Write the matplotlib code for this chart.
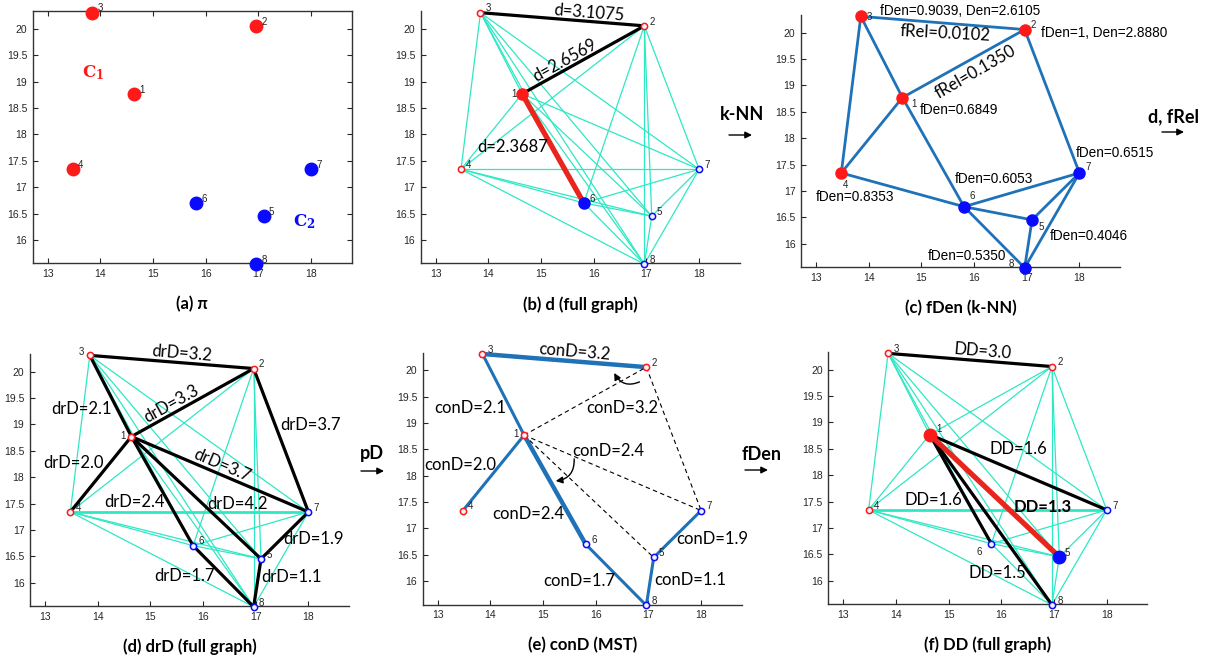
import matplotlib
matplotlib.use('Agg')
import matplotlib.pyplot as plt
from matplotlib.patches import FancyArrowPatch

plt.rcParams['font.family'] = ['Liberation Sans', 'DejaVu Sans']

# ---------------- data ----------------
node_ids = [1, 2, 3, 4, 5, 6, 7, 8]
node_x = [14.64, 16.96, 13.85, 13.48, 17.10, 15.81, 18.00, 16.96]
node_y = [18.77, 20.06, 20.31, 17.34, 16.45, 16.70, 17.34, 15.54]
node_cluster = [1, 1, 1, 1, 2, 2, 2, 2]

x_ticks = [13, 14, 15, 16, 17, 18]
y_ticks = [16, 16.5, 17, 17.5, 18, 18.5, 19, 19.5, 20]

# panel (b): distances
d_black_edges = [(3, 2), (1, 2)]
d_red_edges = [(1, 6)]
d_labels = ['d=3.1075', 'd=2.6569', 'd=2.3687']

# panel (c): k-NN graph, fDen / fRel
knn_edges = [(3, 2), (3, 4), (3, 1), (1, 2), (1, 4), (1, 6), (4, 6), (2, 7),
             (6, 7), (6, 5), (6, 8), (5, 7), (5, 8), (8, 7)]
fden_labels = ['fDen=0.9039, Den=2.6105', 'fDen=1, Den=2.8880', 'fRel=0.0102',
               'fRel=0.1350', 'fDen=0.6849', 'fDen=0.6515', 'fDen=0.6053',
               'fDen=0.8353', 'fDen=0.4046', 'fDen=0.5350']

# panel (d): drD
drd_edges = [(3, 2), (3, 1), (1, 2), (1, 4), (1, 6), (1, 5), (1, 7), (2, 7),
             (7, 5), (5, 8), (6, 8)]
drd_labels = ['drD=3.2', 'drD=3.3', 'drD=2.1', 'drD=3.7', 'drD=3.7', 'drD=2.0',
              'drD=2.4', 'drD=4.2', 'drD=1.9', 'drD=1.1', 'drD=1.7']

# panel (e): conD on MST
mst_edges = [(3, 2), (3, 1), (1, 4), (1, 6), (6, 8), (8, 5), (5, 7)]
mst_thick = [(3, 2), (1, 6)]
mst_dashed = [(1, 2), (2, 7), (1, 7), (1, 5)]
cond_labels = ['conD=3.2', 'conD=2.1', 'conD=3.2', 'conD=2.4', 'conD=2.0',
               'conD=2.4', 'conD=1.9', 'conD=1.7', 'conD=1.1']

# panel (f): DD
dd_black_edges = [(3, 2), (1, 7), (1, 6), (1, 8)]
dd_red_edges = [(1, 5)]
dd_labels = ['DD=3.0', 'DD=1.6', 'DD=1.6', 'DD=1.3', 'DD=1.5']

titles = ['(a) \u03c0', '(b) d (full graph)', '(c) fDen (k-NN)',
          '(d) drD (full graph)', '(e) conD (MST)', '(f) DD (full graph)']
step_labels = ['k-NN', 'd, fRel', 'pD', 'fDen']

# ---------------- styling ----------------
RED = '#ff1a1a'
BLUE = '#0a0aff'
CYAN = '#2ee8c4'
MBLUE = '#1f72b8'
ANN = ['Lato', 'DejaVu Sans']

W, HF = 1207, 662
AW, AH = 319, 252
XL = (12.715, 18.77)
YL = (15.556, 20.336)

fig = plt.figure(figsize=(W / 100, HF / 100), dpi=100)


def P(i):
    return node_x[i - 1], node_y[i - 1]


def make_ax(left, top, box=False):
    ax = fig.add_axes([left / W, 1 - (top + AH) / HF, AW / W, AH / HF])
    ax.set_xlim(*XL)
    ax.set_ylim(*YL)
    ax.set_xticks(x_ticks)
    ax.set_yticks(y_ticks)
    ax.set_xticklabels(['%g' % v for v in x_ticks])
    ax.set_yticklabels(['%g' % v for v in y_ticks])
    ax.tick_params(direction='in', length=3.5, width=0.8, labelsize=7.5,
                   colors='#262626', top=box, right=box, pad=4)
    for s in ax.spines.values():
        s.set_color('#333333')
        s.set_linewidth(1.0)
    if not box:
        ax.spines['top'].set_visible(False)
        ax.spines['right'].set_visible(False)
    return ax


def edges(ax, elist, color, lw, ls='-', z=2):
    for a, b in elist:
        xa, ya = P(a)
        xb, yb = P(b)
        ax.plot([xa, xb], [ya, yb], color=color, lw=lw, ls=ls, zorder=z,
                solid_capstyle='round', clip_on=False)


def full_graph(ax, thick=None):
    for i in range(1, 9):
        for j in range(i + 1, 9):
            lw = 0.9
            if thick and ((i, j) in thick or (j, i) in thick):
                lw = 2.0
            edges(ax, [(i, j)], CYAN, lw, z=1)


def nodes(ax, filled=(), ms_open=4.5, ms_fill=8, all_filled=False):
    for k, nid in enumerate(node_ids):
        c = RED if node_cluster[k] == 1 else BLUE
        if all_filled or nid in filled:
            ax.plot(node_x[k], node_y[k], 'o', ms=ms_fill, color=c, mec=c,
                    zorder=6, clip_on=False)
        else:
            ax.plot(node_x[k], node_y[k], 'o', ms=ms_open, mfc='#eef4ff',
                    mec=c, mew=1.1, zorder=6, clip_on=False)


def numlab(ax, offsets):
    for k, nid in enumerate(node_ids):
        dx, dy, ha = offsets.get(nid, (0.1, 0.08, 'left'))
        ax.text(node_x[k] + dx, node_y[k] + dy, str(nid), fontsize=7,
                ha=ha, va='center', color='#222222', zorder=7)


def title(ax_left, ax_top, txt):
    fig.text((ax_left + AW / 2) / W, 1 - (ax_top + AH + 41) / HF, txt,
             ha='center', va='center', fontsize=12, fontweight='bold',
             family=ANN)


def step(cx, cy, txt, ax0, ax1, ay):
    fig.text(cx / W, 1 - cy / HF, txt, ha='center', va='center', fontsize=13,
             fontweight='bold', family=ANN)
    fig.add_artist(FancyArrowPatch((ax0 / W, 1 - ay / HF), (ax1 / W, 1 - ay / HF),
                                   transform=fig.transFigure, arrowstyle='-|>',
                                   mutation_scale=10, lw=1.0, color='black',
                                   shrinkA=0, shrinkB=0))


def ann(ax, x, y, s, rot=0, size=12, weight='normal', ha='center', fam=ANN,
        va='center'):
    ax.text(x, y, s, fontsize=size, rotation=rot, ha=ha, va=va,
            family=fam, fontweight=weight, zorder=8,
            rotation_mode='anchor')


ROT_TOP = -4.6
ROT_12 = 29.1
ROT_17 = -23.1

# ---------------- (a) ----------------
pos = {'a': (32.7, 11.3), 'b': (420.7, 11.3), 'c': (801, 15),
       'd': (30, 354), 'e': (422.7, 352.6), 'f': (828.3, 352)}

ax = make_ax(*pos['a'], box=True)
nodes(ax, ms_fill=9, all_filled=True)
numlab(ax, {})
ax.text(13.86, 19.18, r'$\mathbf{C}_{\mathbf{1}}$', color=RED, fontsize=12,
        math_fontfamily='dejavuserif', ha='center', va='center')
ax.text(17.87, 16.34, r'$\mathbf{C}_{\mathbf{2}}$', color=BLUE, fontsize=12,
        math_fontfamily='dejavuserif', ha='center', va='center')
title(*pos['a'], titles[0])

# ---------------- (b) ----------------
ax = make_ax(*pos['b'])
full_graph(ax)
edges(ax, d_black_edges, 'black', 2.3, z=3)
edges(ax, d_red_edges, '#e8261e', 3.8, z=3)
nodes(ax, filled=(1, 6), ms_fill=8)
numlab(ax, {1: (-0.1, 0.0, 'right')})
ann(ax, 15.90, 20.215, d_labels[0], rot=ROT_TOP, va='baseline')
ann(ax, 15.49, 19.33, d_labels[1], rot=ROT_12, va='baseline')
ann(ax, 14.46, 17.77, d_labels[2])
title(*pos['b'], titles[1])

# ---------------- (c) ----------------
ax = make_ax(*pos['c'])
edges(ax, knn_edges, MBLUE, 2.0)
nodes(ax, ms_fill=8, all_filled=True)
numlab(ax, {3: (0.12, -0.02, 'left'), 2: (0.12, 0.08, 'left'),
            1: (0.16, -0.12, 'left'), 4: (0.08, -0.22, 'center'),
            6: (0.1, 0.2, 'left'), 5: (0.12, -0.13, 'left'),
            7: (0.12, 0.11, 'left'), 8: (-0.2, 0.08, 'right')})
CF = ['Liberation Sans']
ann(ax, 14.22, 20.42, fden_labels[0], size=9.8, ha='left', fam=CF)
ann(ax, 17.27, 20.00, fden_labels[1], size=9.8, ha='left', fam=CF)
ann(ax, 15.46, 19.98, fden_labels[2], rot=-3, size=12)
ann(ax, 16.02, 19.26, fden_labels[3], rot=30, size=12)
ann(ax, 14.96, 18.53, fden_labels[4], size=9.8, ha='left', fam=CF)
ann(ax, 17.93, 17.71, fden_labels[5], size=9.8, ha='left', fam=CF)
ann(ax, 15.64, 17.22, fden_labels[6], size=9.8, ha='left', fam=CF)
ann(ax, 13.00, 16.89, fden_labels[7], size=9.8, ha='left', fam=CF)
ann(ax, 17.43, 16.14, fden_labels[8], size=9.8, ha='left', fam=CF)
ann(ax, 15.13, 15.76, fden_labels[9], size=9.8, ha='left', fam=CF)
title(*pos['c'], titles[2])

# ---------------- (d) ----------------
ax = make_ax(*pos['d'])
full_graph(ax, thick=[(4, 7)])
edges(ax, drd_edges, 'black', 2.3, z=3)
nodes(ax, ms_open=4.5)
numlab(ax, {3: (-0.1, 0.06, 'right'), 1: (-0.1, 0.02, 'right')})
ann(ax, 15.58, 20.25, drd_labels[0], rot=ROT_TOP, va='baseline')
ann(ax, 15.44, 19.30, drd_labels[1], rot=ROT_12, va='baseline')
ann(ax, 13.70, 19.30, drd_labels[2])
ann(ax, 18.03, 18.99, drd_labels[3])
ann(ax, 16.32, 18.13, drd_labels[4], rot=ROT_17, va='baseline')
ann(ax, 13.55, 18.26, drd_labels[5])
ann(ax, 14.70, 17.52, drd_labels[6])
ann(ax, 16.66, 17.50, drd_labels[7])
ann(ax, 18.09, 16.82, drd_labels[8])
ann(ax, 17.67, 16.10, drd_labels[9])
ann(ax, 15.65, 16.13, drd_labels[10])
title(*pos['d'], titles[3])

# ---------------- (e) ----------------
ax = make_ax(*pos['e'])
thin = [e for e in mst_edges if e not in mst_thick]
edges(ax, thin, MBLUE, 2.2)
edges(ax, mst_thick, MBLUE, 3.2)
edges(ax, mst_dashed, 'black', 0.8, ls=(0, (4, 3)))
nodes(ax, ms_open=4.5)
numlab(ax, {1: (-0.1, 0.03, 'right')})
ann(ax, 15.58, 20.26, cond_labels[0], rot=ROT_TOP, va='baseline')
ann(ax, 13.61, 19.28, cond_labels[1])
ann(ax, 16.50, 19.28, cond_labels[2])
ann(ax, 16.24, 18.47, cond_labels[3])
ann(ax, 13.42, 18.20, cond_labels[4])
ann(ax, 14.72, 17.27, cond_labels[5])
ann(ax, 18.21, 16.80, cond_labels[6])
ann(ax, 15.69, 16.01, cond_labels[7])
ann(ax, 17.80, 16.02, cond_labels[8])
ax.add_patch(FancyArrowPatch((16.83, 19.78), (16.35, 19.95),
                             connectionstyle='arc3,rad=-0.45', arrowstyle='-|>',
                             mutation_scale=10, lw=1.0, color='black', zorder=8,
                             shrinkA=0, shrinkB=0))
ax.add_patch(FancyArrowPatch((15.59, 18.32), (15.24, 17.90),
                             connectionstyle='arc3,rad=-0.45', arrowstyle='-|>',
                             mutation_scale=10, lw=1.0, color='black', zorder=8,
                             shrinkA=0, shrinkB=0))
title(*pos['e'], titles[4])

# ---------------- (f) ----------------
ax = make_ax(*pos['f'])
full_graph(ax, thick=[(4, 7)])
edges(ax, dd_black_edges, 'black', 2.3, z=3)
edges(ax, dd_red_edges, '#e8261e', 3.8, z=3)
nodes(ax, filled=(1, 5), ms_fill=9)
numlab(ax, {6: (-0.17, -0.15, 'right'), 1: (0.12, 0.1, 'left')})
ann(ax, 15.63, 20.26, dd_labels[0], rot=ROT_TOP, va='baseline')
ann(ax, 16.33, 18.49, dd_labels[1])
ann(ax, 14.71, 17.52, dd_labels[2])
ann(ax, 16.78, 17.40, dd_labels[3], weight='bold')
ann(ax, 15.92, 16.14, dd_labels[4])
title(*pos['f'], titles[5])

# ---------------- step arrows ----------------
step(742, 115, step_labels[0], 729, 752, 135)
step(1173, 117, step_labels[1], 1162, 1184, 132)
step(372, 453, step_labels[2], 361, 384, 471)
step(762, 455, step_labels[3], 745, 768, 470)

fig.savefig('out.png', dpi=100)
